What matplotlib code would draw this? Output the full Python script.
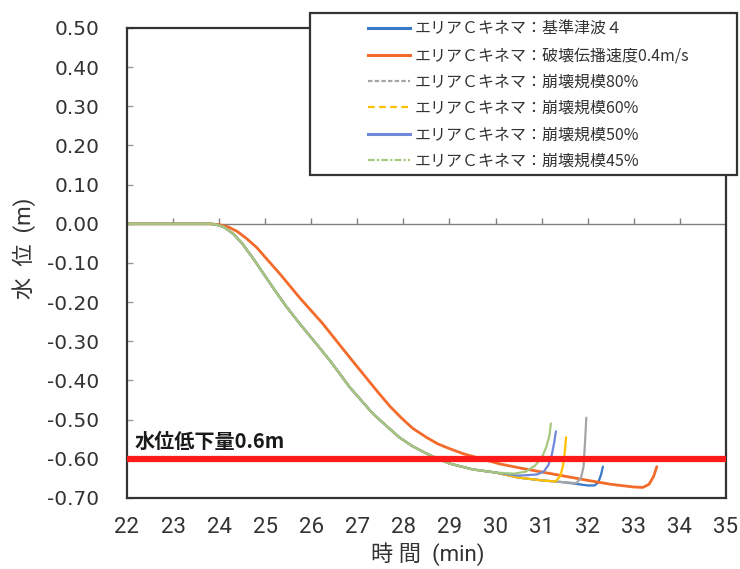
import matplotlib
matplotlib.use('Agg')
import matplotlib.pyplot as plt
from matplotlib.lines import Line2D
from matplotlib.patches import Rectangle

plt.rcParams['font.family'] = ['Noto Sans CJK JP', 'DejaVu Sans']
plt.rcParams['axes.unicode_minus'] = False

# shared descent (base case and the slump-scale cases overlap here)
t_common = [22.0, 23.0, 23.8, 23.9, 24.1, 24.3, 24.5, 24.73, 24.95, 25.17, 25.45, 25.75,
            26.1, 26.41, 26.84, 27.34, 27.65, 27.92, 28.2, 28.51, 28.75, 29.0, 29.5, 30.0]
v_common = [0.0, 0.0, 0.0, -0.001, -0.008, -0.025, -0.05, -0.087, -0.125, -0.163, -0.21, -0.255,
            -0.305, -0.35, -0.418, -0.485, -0.518, -0.546, -0.568, -0.587, -0.6, -0.612, -0.627, -0.635]

t_base = t_common + [30.5, 31.0, 31.5, 32.0, 32.15, 32.23, 32.29, 32.33]
v_base = v_common + [-0.648, -0.655, -0.66, -0.668, -0.668, -0.66, -0.64, -0.62]

t_speed = [22.0, 23.0, 23.8, 24.0, 24.2, 24.4, 24.6, 24.82, 25.05, 25.32, 25.75, 26.25,
           26.84, 27.42, 27.7, 27.95, 28.2, 28.51, 28.75, 29.0, 29.3, 29.6, 30.09, 30.6, 31.3,
           32.0, 32.5, 33.0, 33.2, 33.33, 33.43, 33.5]
v_speed = [0.0, 0.0, 0.0, -0.002, -0.008, -0.02, -0.038, -0.061, -0.092, -0.128, -0.189, -0.255,
           -0.342, -0.426, -0.465, -0.495, -0.522, -0.546, -0.562, -0.574, -0.587, -0.597, -0.613, -0.625, -0.64,
           -0.655, -0.665, -0.672, -0.673, -0.665, -0.645, -0.62]

t_80 = t_common + [30.5, 31.0, 31.5, 31.75, 31.85, 31.91, 31.94, 31.97]
v_80 = v_common + [-0.648, -0.655, -0.66, -0.662, -0.65, -0.62, -0.56, -0.495]

t_60 = t_common + [30.5, 31.0, 31.3, 31.4, 31.46, 31.5, 31.53]
v_60 = v_common + [-0.648, -0.655, -0.658, -0.645, -0.62, -0.585, -0.545]

t_50 = t_common + [30.5, 30.9, 31.05, 31.15, 31.22, 31.27, 31.31]
v_50 = v_common + [-0.643, -0.64, -0.632, -0.615, -0.59, -0.56, -0.53]

t_45 = t_common + [30.4, 30.65, 30.85, 31.0, 31.1, 31.17, 31.2]
v_45 = v_common + [-0.638, -0.633, -0.618, -0.598, -0.57, -0.54, -0.51]

labels = ['エリアＣキネマ：基準津波４',
          'エリアＣキネマ：破壊伝播速度0.4m/s',
          'エリアＣキネマ：崩壊規模80%',
          'エリアＣキネマ：崩壊規模60%',
          'エリアＣキネマ：崩壊規模50%',
          'エリアＣキネマ：崩壊規模45%']
colors = ['#3a78c9', '#f26b2a', '#a5a5a5', '#ffc000', '#6f88da', '#a6c77e']
styles = ['-', '-', (0, (2, 1)), (0, (3, 2)), '-', (0, (3, 1, 1, 1))]

threshold = -0.60
x_ticks = list(range(22, 36))
y_ticks = [0.5, 0.4, 0.3, 0.2, 0.1, 0.0, -0.1, -0.2, -0.3, -0.4, -0.5, -0.6, -0.7]

fig = plt.figure(figsize=(7.4, 5.69), dpi=100)
ax = fig.add_axes([0.1716, 0.1248, 0.8094, 0.826])

series = [(t_base, v_base), (t_speed, v_speed), (t_80, v_80),
          (t_60, v_60), (t_50, v_50), (t_45, v_45)]
for (t, v), c in zip(series, colors):
    lw = 2.0 if c == '#f26b2a' else 1.6
    ax.plot(t, v, color=c, lw=lw, solid_capstyle='round', solid_joinstyle='round')

# zero line with its small tick marks
ax.axhline(0, color='#808080', lw=1.0, zorder=1)
ax.vlines(x_ticks[1:-1], 0, 0.014, color='#808080', lw=1.0, zorder=1)

ax.axhline(threshold, color='#ff1a1a', lw=4.5, zorder=5)
ax.text(22.17, threshold + 0.027, '水位低下量0.6m', fontsize=14.5, fontweight='bold',
        color='#1a1a1a', va='baseline', ha='left', zorder=6)

ax.set_xlim(22, 35)
ax.set_ylim(-0.7, 0.5)
ax.set_xticks(x_ticks)
ax.set_yticks(y_ticks)
ax.set_yticklabels(['%.2f' % y for y in y_ticks], family='DejaVu Sans', fontsize=14.5,
                   color='#333333')
ax.set_xticklabels([str(x) for x in x_ticks], family='Roboto', fontsize=16,
                   color='#333333')
ax.tick_params(axis='x', length=0, pad=14)
ax.tick_params(axis='y', direction='in', length=4, width=1, color='#999999', pad=20)

for s in ax.spines.values():
    s.set_color('#333333')
    s.set_linewidth(1.6)

ax.set_xlabel('時 間  (min)', fontsize=16, family=['Roboto', 'Noto Sans CJK JP'],
              color='#333333')
ax.xaxis.set_label_coords(0.502, -0.095)
ax.set_ylabel('水  位  (m)', fontsize=16, family=['Roboto', 'Noto Sans CJK JP'],
              color='#333333')
ax.yaxis.set_label_coords(-0.152, 0.532)

# legend box (wider than its content, sticks out above the plot)
fig.patches.append(Rectangle((310 / 740, 1 - 175 / 569), 427 / 740, 162 / 569,
                             transform=fig.transFigure, fill=True, facecolor='white',
                             edgecolor='#333333', lw=1.6, zorder=10))
handles = [Line2D([], [], color=c, lw=2.2 if i < 2 or i == 4 else 1.6, ls=s)
           for i, (c, s) in enumerate(zip(colors, styles))]
leg = fig.legend(handles, labels, loc='upper left', bbox_to_anchor=(368 / 740, 1 - 21 / 569),
                 bbox_transform=fig.transFigure, frameon=False, fontsize=11.5,
                 handlelength=2.65, handletextpad=0.3, labelspacing=0.585,
                 borderpad=0, borderaxespad=0)
leg.set_zorder(11)
for txt in leg.get_texts():
    txt.set_color('#333333')

fig.savefig('out.png', dpi=100)
